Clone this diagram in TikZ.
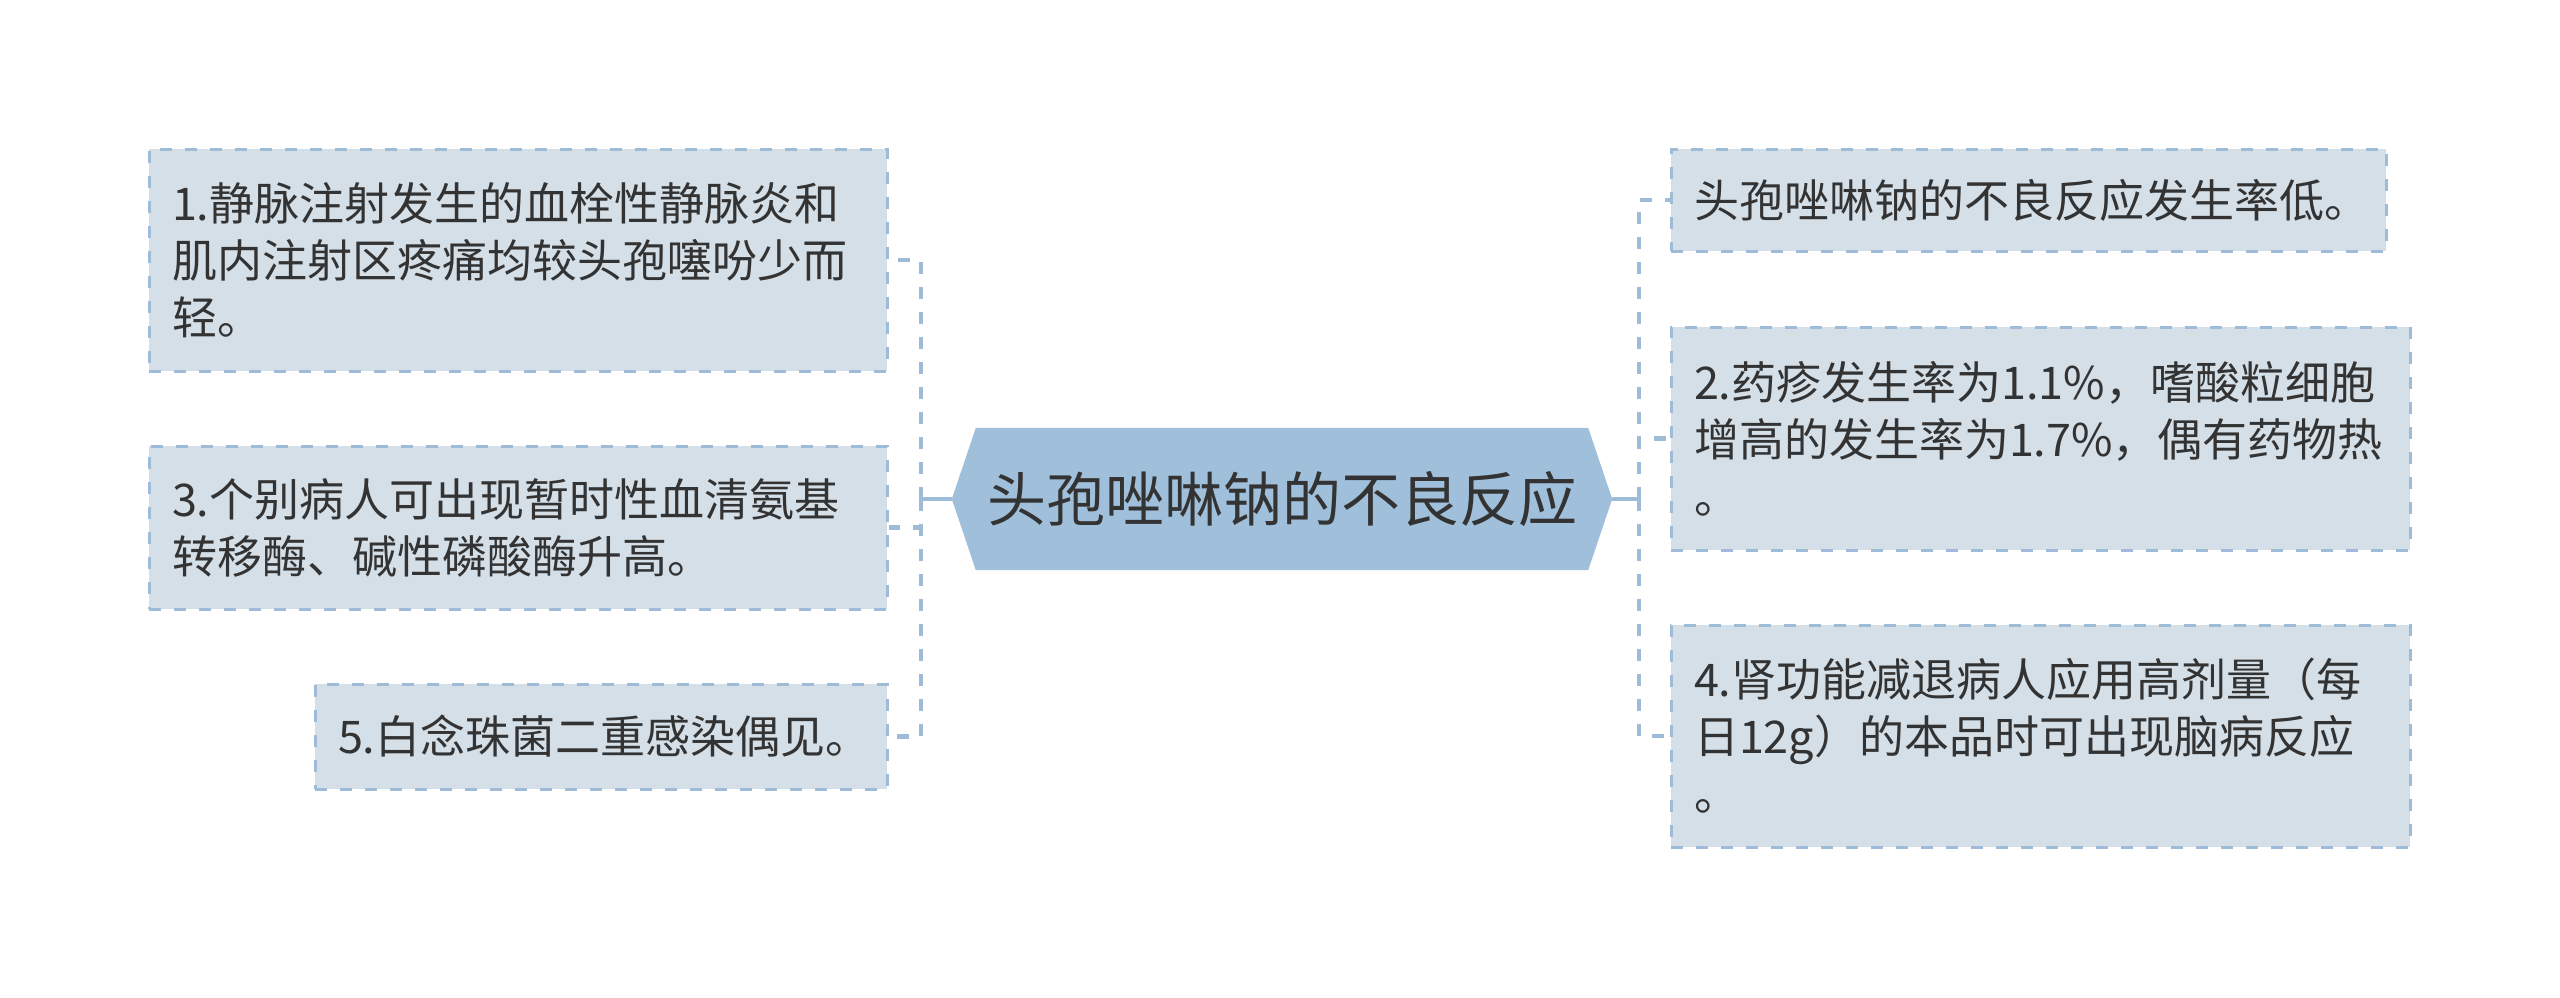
\documentclass[tikz,border=0pt]{standalone}
\usepackage{fontspec}
\newfontfamily\cjk{Noto Sans CJK SC}
\usetikzlibrary{backgrounds}
\definecolor{lineblue}{RGB}{158,188,216}
\definecolor{boxfill}{RGB}{212,223,232}
\definecolor{centerfill}{RGB}{160,191,219}
\definecolor{textgray}{RGB}{51,51,51}
\tikzset{
  leaf/.style={draw=lineblue, line width=3pt, dash pattern=on 12pt off 13pt,
    fill=boxfill, text=textgray, font=\cjk\fontsize{45}{57}\selectfont,
    align=left, inner xsep=23pt, inner ysep=0pt, anchor=center},
  conn/.style={draw=lineblue, line width=4.3pt, dash pattern=on 12pt off 13pt},
  stub/.style={draw=lineblue, line width=4.5pt},
}
\begin{document}
\begin{tikzpicture}[x=1pt,y=-1pt]
\useasboundingbox (0,0) rectangle (2560,997);
% central node
\node[font=\cjk\fontsize{59}{70}\selectfont, text=textgray, minimum width=660pt,
  minimum height=142pt, inner sep=0pt] (c) at (1282,499) {头孢唑啉钠的不良反应};
\begin{pgfonlayer}{background}
\fill[centerfill] (c.west) -- ([xshift=24pt]c.north west) -- ([xshift=-24pt]c.north east)
  -- (c.east) -- ([xshift=-24pt]c.south east) -- ([xshift=24pt]c.south west) -- cycle;
\end{pgfonlayer}
% left nodes
\node[leaf, text width=692pt, minimum height=222pt] (b1) at (518,260)
  {1.静脉注射发生的血栓性静脉炎和\\肌内注射区疼痛均较头孢噻吩少而\\轻。};
\node[leaf, text width=692pt, minimum height=163pt] (b3) at (518,527.5)
  {3.个别病人可出现暂时性血清氨基\\转移酶、碱性磷酸酶升高。};
\node[leaf, text width=526pt, minimum height=105pt] (b5) at (601,736.5)
  {5.白念珠菌二重感染偶见。};
% right nodes
\node[leaf, text width=669pt, minimum height=102pt] (r1) at (2028.5,200)
  {头孢唑啉钠的不良反应发生率低。};
\node[leaf, text width=693pt, minimum height=223pt] (r2) at (2040.5,438.5)
  {2.药疹发生率为1.1\%，嗜酸粒细胞\\增高的发生率为1.7\%，偶有药物热\\。};
\node[leaf, text width=693pt, minimum height=222pt] (r4) at (2040.5,736)
  {4.肾功能减退病人应用高剂量（每\\日12g）的本品时可出现脑病反应\\。};
% connectors
\coordinate (lt) at (921,499);
\coordinate (rt) at (1639,499);
\draw[stub] (c.west) -- (lt);
\draw[stub] (c.east) -- (rt);
\draw[conn] (lt) |- (b1.east);
\draw[conn] (lt) |- (b3.east);
\draw[conn] (lt) |- (b5.east);
\draw[conn] (rt) |- (r1.west);
\draw[conn] (rt) |- (r2.west);
\draw[conn] (rt) |- (r4.west);
\end{tikzpicture}
\end{document}
